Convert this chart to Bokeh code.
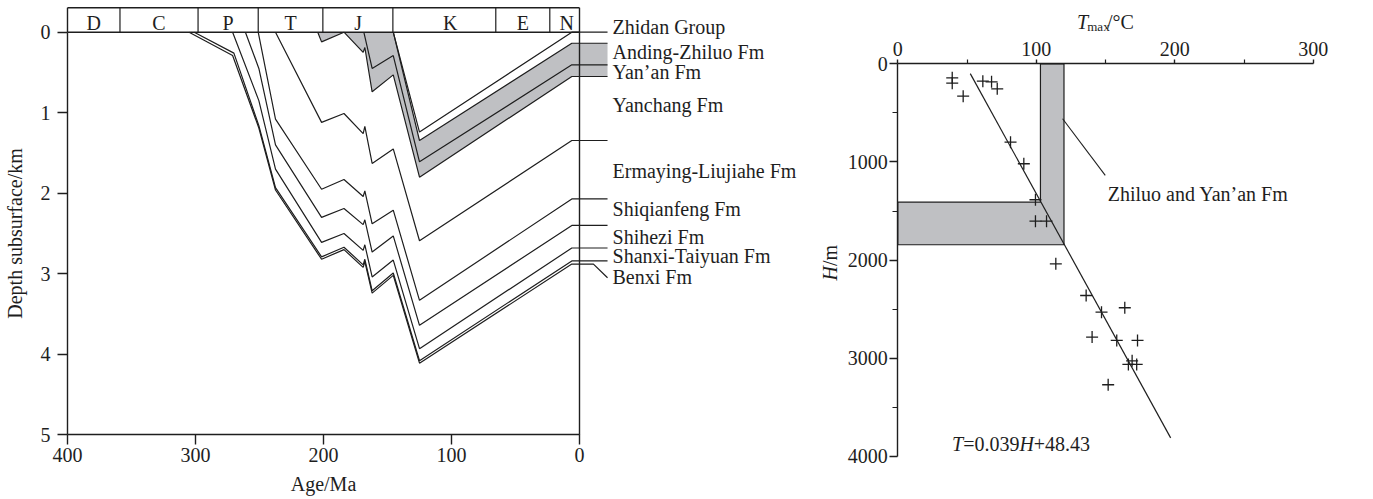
import math
from bokeh.plotting import figure
from bokeh.models import Range1d, FixedTicker
from bokeh.layouts import row
from bokeh.embed import file_html
from bokeh.resources import INLINE
from bokeh.core.properties import value

FONT = "Liberation Serif"
INK = "#1e1e1e"
GRAY = "#bfc0c3"
FS = "20px"

# ---------------- burial history ----------------
# geological periods (Ma)
period_names = ["D", "C", "P", "T", "J", "K", "E", "N"]
period_bounds = [400, 359, 298, 251, 200.5, 145.8, 65.4, 23.2, 0]
period_label_age = [379.5, 328.5, 274.5, 225.7, 173, 101, 44.3, 10]

# burial curves of formation boundaries: age (Ma) / depth (km)
benxi_age = [305, 271, 250.5, 237.5, 201.5, 184, 169, 167.7, 162, 145.5, 125, 6, 0]
benxi_depth = [0, 0.29, 1.19, 1.96, 2.82, 2.70, 2.92, 2.85, 3.24, 3.02, 4.11, 2.88, 2.88]

shanxi_age = [301, 270, 250.5, 237.5, 201.5, 184, 169, 167.7, 162, 145.5, 125, 6, 0]
shanxi_depth = [0, 0.26, 1.16, 1.93, 2.79, 2.67, 2.89, 2.82, 3.21, 2.99, 4.08, 2.84, 2.84]

shihezi_age = [271, 250.5, 237.5, 201.5, 184, 169, 167.7, 162, 145.5, 125, 6, 0]
shihezi_depth = [0, 0.85, 1.70, 2.61, 2.50, 2.71, 2.64, 3.04, 2.83, 3.93, 2.68, 2.68]

shiqianfeng_age = [261, 250.5, 237.5, 201.5, 184, 169, 167.7, 162, 145.5, 125, 6, 0]
shiqianfeng_depth = [0, 0.45, 1.40, 2.30, 2.19, 2.39, 2.33, 2.73, 2.53, 3.64, 2.40, 2.40]

ermaying_age = [251, 237.5, 201.5, 184, 169, 167.7, 162, 145.5, 125, 6, 0]
ermaying_depth = [0, 1.08, 1.95, 1.83, 2.04, 1.97, 2.38, 2.21, 3.33, 2.07, 2.07]

yanchang_age = [237.5, 201.5, 184, 169, 167.7, 162, 145.5, 125, 6, 0]
yanchang_depth = [0, 1.12, 1.01, 1.26, 1.17, 1.63, 1.45, 2.59, 1.345, 1.345]

fuxian_age = [204.5, 201.5, 184]
fuxian_depth = [0, 0.12, 0]

yanan_age = [184, 169, 167.7, 162, 145.5, 125, 6, 0]
yanan_depth = [0, 0.25, 0.19, 0.74, 0.53, 1.80, 0.55, 0.55]

zhiluo_age = [168.5, 162, 145.5, 125, 6, 0]
zhiluo_depth = [0, 0.45, 0.29, 1.61, 0.405, 0.405]

anding_top_age = [145.5, 125, 6, 0]
anding_top_depth = [0, 1.345, 0.137, 0.137]

zhidan_age = [145.5, 125, 6, 0]
zhidan_depth = [0, 1.24, 0.0, 0.0]

form_labels = ["Zhidan Group", "Anding-Zhiluo Fm", "Yan\u2019an Fm", "Yanchang Fm",
               "Ermaying-Liujiahe Fm", "Shiqianfeng Fm", "Shihezi Fm",
               "Shanxi-Taiyuan Fm", "Benxi Fm"]
form_label_depth = [-0.06, 0.24, 0.49, 0.91, 1.72, 2.20, 2.54, 2.775, 3.045]

# ---------------- Tmax vs depth ----------------
tmax_c = [39.3, 39.3, 47.2, 61.4, 67.7, 71.8, 81.4, 91.0, 99.4, 99.4, 107.4,
          114.1, 136.0, 147.1, 163.9, 140.3, 158.1, 173.1, 166.5, 169.2, 172.5, 151.9]
depth_m = [143, 197, 330, 177, 184, 255, 798, 1018, 1385, 1603, 1603,
           2037, 2360, 2530, 2485, 2784, 2818, 2818, 3062, 3025, 3062, 3269]
fit_slope, fit_intercept = 0.039, 48.43
fit_h_span = [100, 3810]
reservoir_t = [103, 120]
reservoir_h = [1409, 1843]


def style_axis(ax):
    ax.axis_line_color = INK
    ax.axis_line_width = 1.4
    ax.major_tick_line_color = INK
    ax.major_tick_line_width = 1.4
    ax.minor_tick_line_color = INK
    ax.minor_tick_line_width = 1.2
    ax.major_tick_in = 0
    ax.minor_tick_in = 0
    ax.major_label_text_font = FONT
    ax.major_label_text_font_size = FS
    ax.major_label_text_color = INK
    ax.axis_label_text_font = FONT
    ax.axis_label_text_font_size = FS
    ax.axis_label_text_font_style = "normal"
    ax.axis_label_text_color = INK


def bare_figure(width, x_range, y_range, x_loc, y_loc):
    p = figure(width=width, height=499, x_range=x_range, y_range=y_range,
               x_axis_location=x_loc, y_axis_location=y_loc,
               output_backend="svg", toolbar_location=None,
               min_border_left=0, min_border_right=0, min_border_top=0, min_border_bottom=0)
    p.outline_line_color = None
    p.grid.visible = False
    p.background_fill_color = "white"
    p.border_fill_color = "white"
    return p


def put_text(p, x, y, txt, size=FS, style="normal", angle=0.0, align="left"):
    p.text(x=[x], y=[y], text=[txt], text_font=value(FONT), text_font_size=size,
           text_font_style=style, angle=angle, text_align=align,
           text_baseline="alphabetic", text_color=INK)


# ======== left: burial history ========
LEADER_END = -21.9
LEADER_BEND = -10.9
STRIP_TOP = -0.303
LABEL_AGE = -25.8

p1 = bare_figure(812, Range1d(452.34, -182.03), Range1d(5.8035, -0.3937), "below", "left")

xa = p1.xaxis[0]
style_axis(xa)
xa.fixed_location = 5
xa.bounds = (0, 400)
xa.ticker = FixedTicker(ticks=[400, 300, 200, 100, 0])
xa.major_tick_out = 10
xa.minor_tick_out = 0
xa.major_label_standoff = 3
xa.axis_label = "Age/Ma"
xa.axis_label_standoff = 8

ya = p1.yaxis[0]
style_axis(ya)
ya.fixed_location = 400
ya.bounds = (0, 5)
ya.ticker = FixedTicker(ticks=[0, 1, 2, 3, 4, 5])
ya.major_tick_out = 10
ya.minor_tick_out = 0
ya.major_label_standoff = 7
ya.axis_label = "Depth subsurface/km"
ya.axis_label_standoff = 12

# shaded Jurassic reservoir interval
gray_x = [184, 145.5] + anding_top_age[1:] + [LEADER_END, LEADER_END] + yanan_age[::-1]
gray_y = [0, 0] + anding_top_depth[1:] + [anding_top_depth[-1], yanan_depth[-1]] + yanan_depth[::-1]
p1.patch(gray_x, gray_y, fill_color=GRAY, line_color=None)
p1.patch(fuxian_age, fuxian_depth, fill_color=GRAY, line_color=None)

# period strip and frame
p1.line([400, 0], [STRIP_TOP, STRIP_TOP], line_color=INK, line_width=1.4)
p1.line([400, 0], [0, 0], line_color=INK, line_width=1.4)
p1.line([400, 400], [STRIP_TOP, 0], line_color=INK, line_width=1.4)
p1.line([0, 0], [STRIP_TOP, 5], line_color=INK, line_width=1.4)
inner = period_bounds[1:-1]
p1.segment(x0=inner, y0=[STRIP_TOP] * len(inner), x1=inner, y1=[0] * len(inner),
           line_color=INK, line_width=1.2)
p1.text(x=period_label_age, y=[-0.12] * len(period_names), text=period_names,
        text_font=value(FONT), text_font_size=FS, text_align="center",
        text_baseline="alphabetic", text_color=INK)

# burial curves, each continued as a leader past the present day
curves = [
    (zhidan_age, zhidan_depth, True),
    (anding_top_age, anding_top_depth, True),
    (zhiluo_age, zhiluo_depth, True),
    (yanan_age, yanan_depth, True),
    (fuxian_age, fuxian_depth, False),
    (yanchang_age, yanchang_depth, True),
    (ermaying_age, ermaying_depth, True),
    (shiqianfeng_age, shiqianfeng_depth, True),
    (shihezi_age, shihezi_depth, True),
    (shanxi_age, shanxi_depth, True),
]
for ages, depths, lead in curves:
    xs = list(ages) + ([LEADER_END] if lead else [])
    ys = list(depths) + ([depths[-1]] if lead else [])
    p1.line(xs, ys, line_color=INK, line_width=1.2)
p1.line(benxi_age + [LEADER_BEND, LEADER_END],
        benxi_depth + [benxi_depth[-1], 3.05], line_color=INK, line_width=1.2)

p1.text(x=[LABEL_AGE] * len(form_labels), y=form_label_depth, text=form_labels,
        text_font=value(FONT), text_font_size=FS, text_align="left",
        text_baseline="alphabetic", text_color=INK)

# ======== right: Tmax vs depth ========
p2 = bare_figure(561, Range1d(-61.6, 343.5), Range1d(4438.0, -644.8), "above", "left")

ta = p2.xaxis[0]
style_axis(ta)
ta.fixed_location = 0
ta.bounds = (0, 300)
ta.ticker = FixedTicker(ticks=[0, 100, 200, 300], minor_ticks=[50, 150, 250])
ta.major_tick_out = 4
ta.minor_tick_out = 4
ta.major_label_standoff = 4

la = p2.yaxis[0]
style_axis(la)
la.fixed_location = 0
la.bounds = (0, 4000)
la.ticker = FixedTicker(ticks=[0, 1000, 2000, 3000, 4000], minor_ticks=[500, 1500, 2500, 3500])
la.major_tick_out = 8
la.minor_tick_out = 5
la.major_label_standoff = 2

t0, t1 = reservoir_t
h0, h1 = reservoir_h
p2.patch([t0, t1, t1, 0, 0, t0, t0], [0, 0, h1, h1, h0, h0, 0],
         fill_color=GRAY, line_color=INK, line_width=1.2)

fit_t = [fit_slope * h + fit_intercept for h in fit_h_span]
p2.line(fit_t, fit_h_span, line_color=INK, line_width=1.2)

p2.scatter(tmax_c, depth_m, marker="cross", size=12, line_color=INK, line_width=1.3)

p2.line([119, 149.8], [560, 1137], line_color=INK, line_width=1.1)
put_text(p2, 151.6, 1330, "Zhiluo and Yan\u2019an Fm")

# equation of the fitted line
for txt, xpos, style in [("T", 39.2, "italic"), ("=0.039", 47.2, "normal"),
                         ("H", 87.8, "italic"), ("+48.43", 98.2, "normal")]:
    put_text(p2, xpos, 3868, txt, style=style)

# axis titles with italic symbols
put_text(p2, 129.4, -427, "T", style="italic")
put_text(p2, 136.8, -383, "max", size="13px")
put_text(p2, 151.0, -427, "/\u00b0C")
put_text(p2, -49.2, 2206, "H", style="italic", angle=math.pi / 2)
put_text(p2, -49.2, 2059, "/m", angle=math.pi / 2)

layout = row(p1, p2)
open("out.html", "w").write(file_html(layout, INLINE))
